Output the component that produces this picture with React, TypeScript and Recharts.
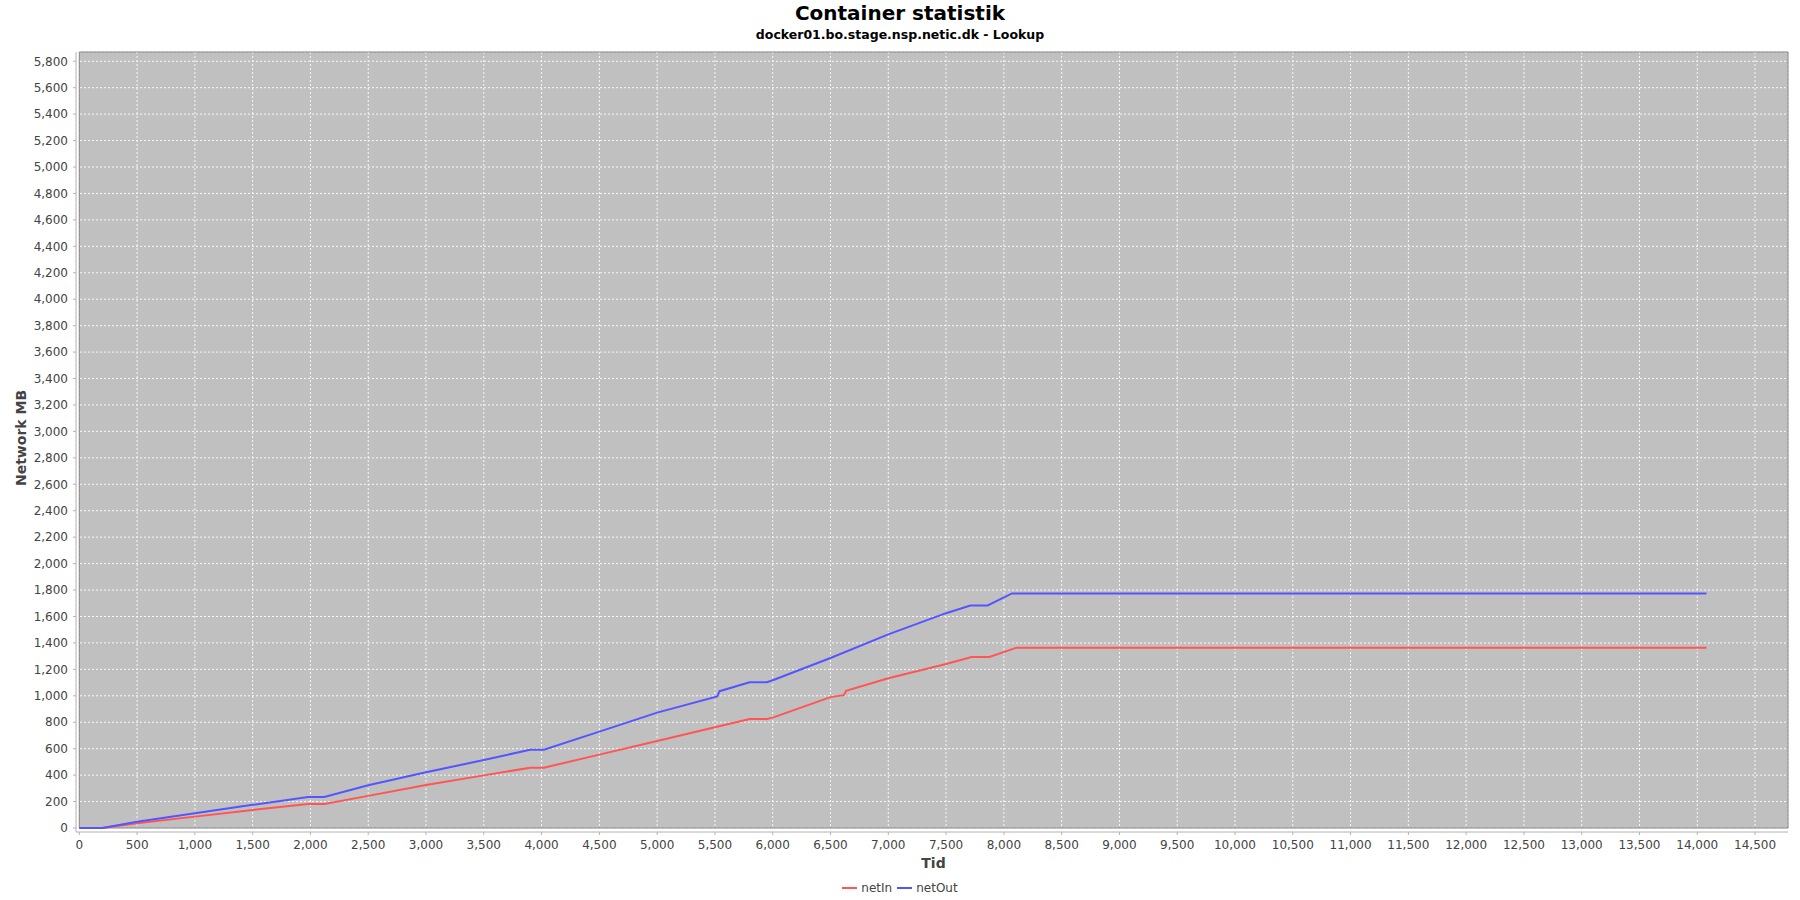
import { LineChart, Line, XAxis, YAxis, CartesianGrid, ReferenceArea } from "recharts";

// netOut samples (time, MB)
const outTime = [0, 200, 500, 1000, 1500, 1980, 2120, 2500, 3000, 3500, 3900, 4020, 4500, 5000, 5520, 5540, 5800, 5950, 6000, 6500, 7000, 7500, 7710, 7860, 8070, 14080];
const outMB = [0, 0, 48, 111, 175, 234, 234, 324, 422, 514, 592, 592, 729, 873, 995, 1035, 1102, 1102, 1118, 1286, 1465, 1625, 1683, 1683, 1774, 1774];

// netIn samples (time, MB)
const inTime = [0, 200, 500, 1000, 1500, 1980, 2120, 2500, 3000, 3500, 3900, 4020, 4500, 5000, 5500, 5800, 5950, 6000, 6500, 6615, 6635, 7000, 7500, 7720, 7875, 8110, 14080];
const inMB = [0, 0, 36, 86, 137, 182, 182, 243, 326, 398, 456, 456, 555, 658, 762, 825, 825, 835, 990, 1005, 1038, 1133, 1241, 1293, 1293, 1364, 1364];

const xTicks = [0, 500, 1000, 1500, 2000, 2500, 3000, 3500, 4000, 4500, 5000, 5500, 6000, 6500, 7000, 7500, 8000, 8500, 9000, 9500, 10000, 10500, 11000, 11500, 12000, 12500, 13000, 13500, 14000, 14500];
const yTicks = [0, 200, 400, 600, 800, 1000, 1200, 1400, 1600, 1800, 2000, 2200, 2400, 2600, 2800, 3000, 3200, 3400, 3600, 3800, 4000, 4200, 4400, 4600, 4800, 5000, 5200, 5400, 5600, 5800];

const series = [
  { name: "netIn", color: "#FF5555", data: inTime.map((t, i) => ({ t, v: inMB[i] })) },
  { name: "netOut", color: "#5555FF", data: outTime.map((t, i) => ({ t, v: outMB[i] })) },
];

const X_MAX = 14785;
const Y_MAX = 5870;

const font = "'DejaVu Sans', sans-serif";
const fmt = (v: number) => v.toLocaleString("en-US");

export default function App() {
  return (
    <div style={{ position: "absolute", left: 0, top: 0, width: 1800, height: 900, background: "#fff", fontFamily: font }}>
      <div style={{ position: "absolute", top: 3, left: 0, width: 1800, textAlign: "center", fontSize: 20, lineHeight: "20px", fontWeight: "bold", color: "#000" }}>
        Container statistik
      </div>
      <div style={{ position: "absolute", top: 29, left: 0, width: 1800, textAlign: "center", fontSize: 12.5, lineHeight: "12.5px", fontWeight: "bold", color: "#000" }}>
        docker01.bo.stage.nsp.netic.dk - Lookup
      </div>

      <LineChart width={1800} height={900} margin={{ top: 52, right: 12, bottom: 38, left: 0 }}>
        <ReferenceArea x1={0} x2={X_MAX} y1={0} y2={Y_MAX} fill="#C0C0C0" fillOpacity={1} stroke="none" zIndex={-300} />
        <CartesianGrid stroke="#F8F8F8" strokeDasharray="2 2" zIndex={-200} />
        <ReferenceArea x1={0} x2={X_MAX} y1={0} y2={Y_MAX} fill="none" stroke="#808080" strokeWidth={1} zIndex={-150} />
        <XAxis
          dataKey="t"
          type="number"
          domain={[-28.5, X_MAX]}
          allowDataOverflow
          ticks={xTicks}
          interval={0}
          tickFormatter={fmt}
          stroke="#B4B4B4"
          tick={{ fill: "#444", fontSize: 12, fontFamily: font }}
          tickSize={3}
          tickMargin={5}
          height={30}
        />
        <YAxis
          type="number"
          domain={[-30.3, Y_MAX]}
          allowDataOverflow
          ticks={yTicks}
          interval={0}
          tickFormatter={fmt}
          stroke="#B4B4B4"
          tick={{ fill: "#444", fontSize: 12, fontFamily: font }}
          tickSize={3}
          tickMargin={5}
          width={76}
        />
        {series.map((s) => (
          <Line
            key={s.name}
            data={s.data}
            dataKey="v"
            name={s.name}
            type="linear"
            stroke={s.color}
            strokeWidth={2}
            dot={false}
            activeDot={false}
            isAnimationActive={false}
          />
        ))}
      </LineChart>

      <div style={{ position: "absolute", top: 856, left: 79, width: 1709, textAlign: "center", fontSize: 14, lineHeight: "14px", fontWeight: "bold", color: "#444" }}>
        Tid
      </div>
      <div
        style={{
          position: "absolute",
          left: 21,
          top: 438,
          transform: "translate(-50%, -50%) rotate(-90deg)",
          whiteSpace: "nowrap",
          fontSize: 14,
          lineHeight: "14px",
          fontWeight: "bold",
          color: "#444",
        }}
      >
        Network MB
      </div>

      <div style={{ position: "absolute", top: 881, left: 0, width: 1800, height: 14, display: "flex", justifyContent: "center", alignItems: "center", fontSize: 12, lineHeight: "14px", color: "#444" }}>
        {series.map((s, i) => (
          <div key={s.name} style={{ display: "flex", alignItems: "center", marginLeft: i > 0 ? 5 : 0 }}>
            <div style={{ width: 15, height: 2, background: s.color, marginRight: 4 }} />
            <span>{s.name}</span>
          </div>
        ))}
      </div>
    </div>
  );
}
